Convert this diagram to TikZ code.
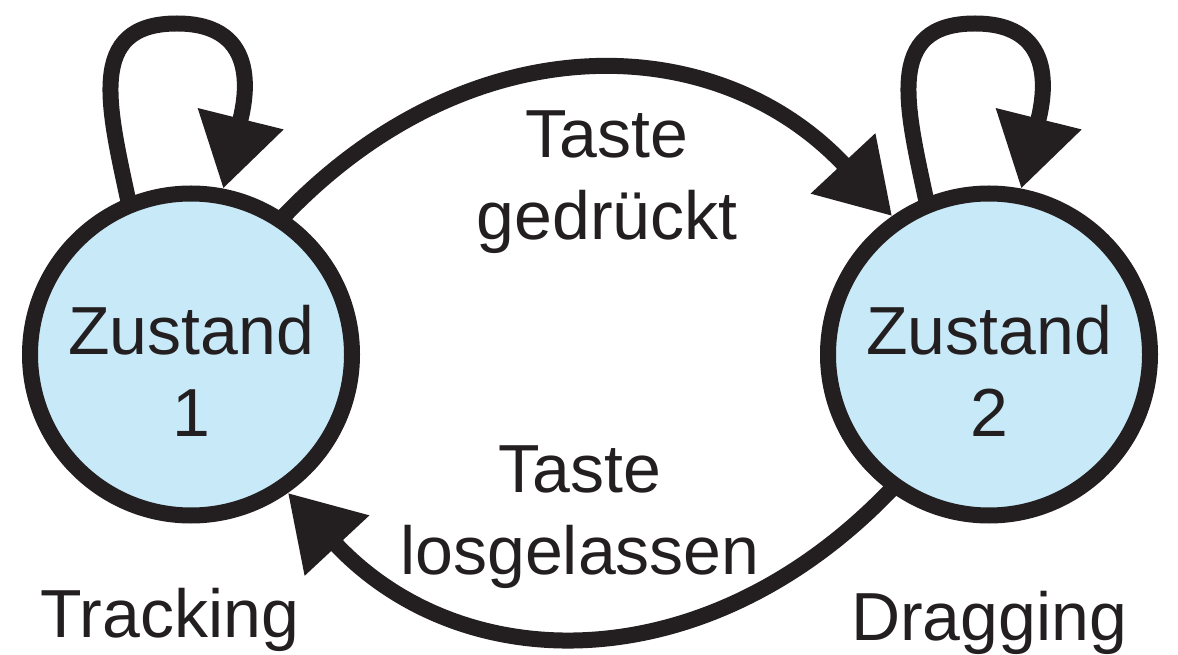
\documentclass[tikz,border=0pt]{standalone}
\usepackage{fontspec}
\setmainfont{Liberation Sans}
\usepackage{tikz}
\usetikzlibrary{arrows.meta,calc,positioning,backgrounds}
\definecolor{stline}{HTML}{231F20}
\definecolor{stfill}{HTML}{C7E9F8}
\newcommand{\zstspacer}{\rule{0pt}{82pt}}

\begin{document}
\begin{tikzpicture}[
    x=1pt, y=1pt,
    every node/.style={text=stline, font=\fontsize{68pt}{82pt}\selectfont},
    state/.style={circle, draw=stline, fill=stfill, line width=16pt, minimum size=322pt, inner sep=0, align=center},
    trans/.style={draw=stline, line width=16pt, -{Triangle[length=72pt, width=84pt]}, shorten <=-10pt},
    lbl/.style={align=center, inner sep=0, anchor=north},
    stlabel/.style={inner sep=0, anchor=base}]
\useasboundingbox (0,0) rectangle (1178,654);

\node[state] (Z1) at (191,299.5) {\zstspacer Zustand\\1};
\node[state] (Z2) at (989,299.5) {\zstspacer Zustand\\2};
\coordinate (Z1top) at ([shift={(-14,331)}]Z1.center);
\coordinate (Z2top) at ([shift={(-14,331)}]Z2.center);

\node[lbl] (T12) at (607,579) {\zstspacer Taste\\gedrückt};
\node[lbl] (T21) at (580,244) {\zstspacer Taste\\losgelassen};
\node[stlabel] (N1) at (170,17) {Tracking};
\node[stlabel] (N2) at (989,14) {Dragging};

\begin{scope}[on background layer]
\path[trans] (Z1.56) to[out=47, in=133, looseness=1.1] (Z2.125);
\path[trans] (Z2.-126) to[out=-133, in=-47, looseness=1.1] (Z1.-55);
\path[trans] (Z1.112) to[out=102, in=180, looseness=1.3] (Z1top) to[out=0, in=76, looseness=1.3] (Z1.79);
\path[trans] (Z2.112) to[out=102, in=180, looseness=1.3] (Z2top) to[out=0, in=76, looseness=1.3] (Z2.79);
\end{scope}

\end{tikzpicture}
\end{document}
